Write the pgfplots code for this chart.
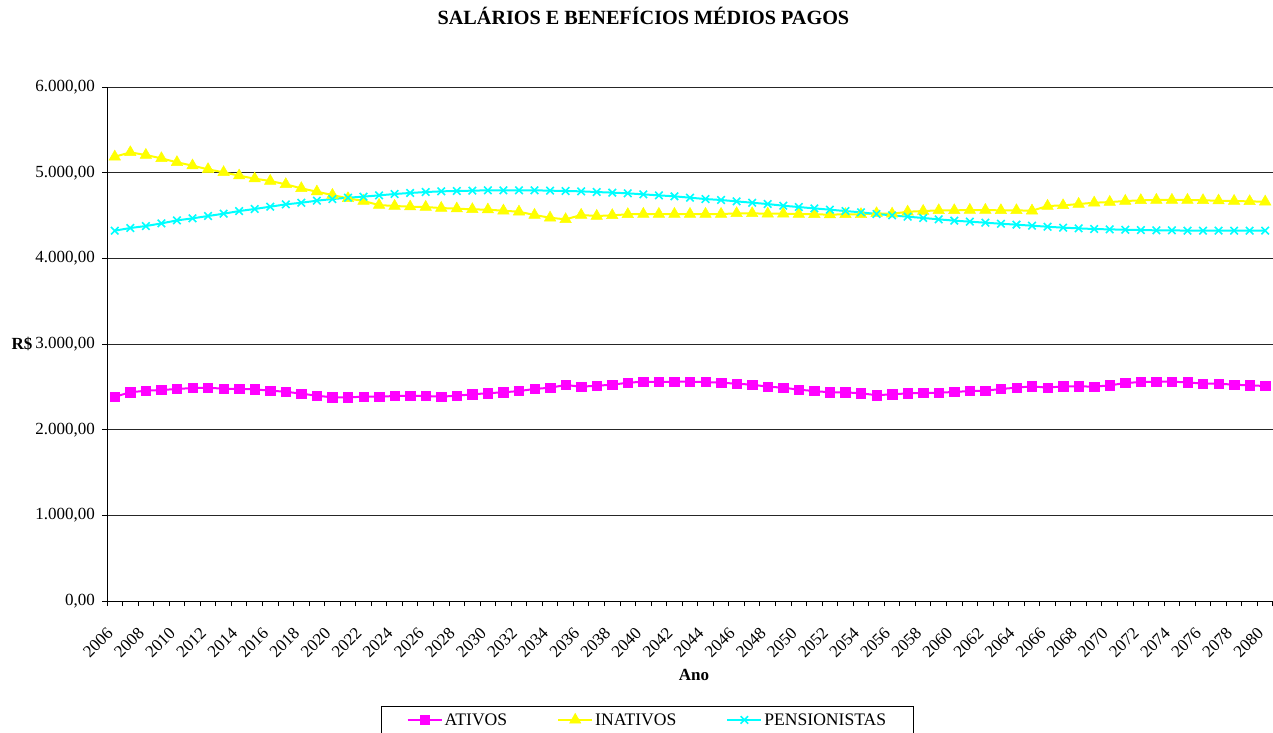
\documentclass[border=0pt]{standalone}
\usepackage{pgfplots}
\pgfplotsset{compat=1.18}
\usepackage{pgfplotstable}
\usepackage{fontspec}
\setmainfont{Liberation Serif}
\definecolor{cmag}{RGB}{255,0,255}
\definecolor{cyel}{RGB}{255,255,0}
\definecolor{ccya}{RGB}{0,255,255}
\pgfplotstableread{
year ativ inat pens
2006 2385 5186 4323
2007 2436 5237 4354
2008 2455 5206 4377
2009 2463 5167 4408
2010 2475 5121 4443
2011 2486 5082 4467
2012 2490 5039 4494
2013 2478 5004 4521
2014 2475 4965 4552
2015 2471 4930 4576
2016 2455 4903 4603
2017 2443 4864 4630
2018 2420 4817 4649
2019 2397 4778 4673
2020 2377 4739 4692
2021 2377 4700 4708
2022 2385 4669 4720
2023 2385 4622 4735
2024 2393 4611 4751
2025 2397 4603 4763
2026 2393 4599 4774
2027 2385 4587 4782
2028 2397 4580 4786
2029 2412 4572 4790
2030 2426 4568 4794
2031 2436 4556 4794
2032 2451 4544 4794
2033 2475 4506 4794
2034 2490 4474 4790
2035 2521 4455 4786
2036 2502 4506 4782
2037 2513 4494 4774
2038 2525 4502 4767
2039 2548 4514 4759
2040 2560 4517 4747
2041 2556 4517 4735
2042 2560 4517 4724
2043 2560 4517 4708
2044 2556 4517 4692
2045 2548 4517 4681
2046 2537 4525 4665
2047 2525 4525 4649
2048 2502 4521 4634
2049 2490 4521 4614
2050 2467 4517 4599
2051 2451 4514 4583
2052 2436 4510 4568
2053 2436 4514 4552
2054 2424 4514 4537
2055 2403 4525 4517
2056 2412 4520 4502
2057 2424 4544 4486
2058 2428 4552 4471
2059 2432 4560 4455
2060 2440 4560 4440
2061 2451 4564 4428
2062 2455 4564 4416
2063 2475 4560 4404
2064 2490 4560 4393
2065 2506 4556 4381
2066 2490 4611 4369
2067 2506 4618 4358
2068 2506 4634 4350
2069 2502 4649 4342
2070 2517 4657 4338
2071 2545 4669 4334
2072 2556 4677 4330
2073 2560 4681 4327
2074 2560 4681 4327
2075 2552 4681 4323
2076 2537 4677 4323
2077 2537 4673 4323
2078 2525 4669 4323
2079 2517 4665 4323
2080 2510 4661 4323
}\datatable
\begin{document}
\begin{tikzpicture}
\useasboundingbox (-107pt,-131pt) rectangle (1166pt,601pt);
\begin{axis}[
  scale only axis,
  width=1166pt, height=514pt,
  xmin=2005.5, xmax=2080.5,
  ymin=0, ymax=6000,
  axis x line*=bottom, axis y line*=left,
  axis line style={-, black, line width=0.9pt},
  ytick={0,1000,...,6000},
  yticklabels={{0,00},{1.000,00},{2.000,00},{3.000,00},{4.000,00},{5.000,00},{6.000,00}},
  xtick={2006,2008,...,2080},
  minor xtick={2005.5,2006.5,...,2080.5},
  tick align=outside,
  major tick length=5pt, minor tick length=5pt,
  major x tick style={draw=none},
  minor x tick style={black, line width=0.8pt},
  ytick style={black, line width=0.8pt},
  ymajorgrids,
  grid style={black!85, line width=0.8pt},
  /pgf/number format/assume math mode=true,
  /pgf/number format/1000 sep={},
  tick label style={font=\fontsize{17}{20}\selectfont, black},
  yticklabel style={inner xsep=7pt},
  xticklabel style={rotate=45, anchor=base east, inner sep=0pt, xshift=-1pt},
  xticklabel shift=28pt,
  title={\textbf{SALÁRIOS E BENEFÍCIOS MÉDIOS PAGOS}},
  title style={font=\fontsize{20.2}{24}\selectfont, at={(axis description cs:0.4601,1)}, anchor=center, yshift=65pt},
  xlabel={\textbf{Ano}},
  every axis x label/.style={at={(axis description cs:0.5,0)}, anchor=center, yshift=-74pt, xshift=4pt, font=\fontsize{17}{20}\selectfont},
  ylabel={\textbf{R\$}},
  every axis y label/.style={at={(axis description cs:0,0.5)}, anchor=center, xshift=-85pt, font=\fontsize{17}{20}\selectfont},
  legend columns=3,
  legend style={at={(axis description cs:0.4635,-0.204)}, anchor=north, draw=black, line width=1pt,
    font=\fontsize{17.6}{20}\selectfont, inner xsep=25pt, inner ysep=5pt,
    /tikz/every even column/.append style={column sep=48pt}},
  legend image code/.code={\draw[mark repeat=2,mark phase=2] plot coordinates {(0pt,0pt) (17pt,0pt) (34pt,0pt)};},
]
\addplot[cmag, line width=2pt, mark=square*, mark size=4.7pt, mark options={solid, fill=cmag, draw=cmag, line width=0.5pt}] table[x=year, y=ativ] {\datatable};
\addlegendentry{ATIVOS}
\addplot[cyel, line width=2pt, mark=triangle*, mark size=6.6pt, mark options={solid, fill=cyel, draw=cyel, line width=0.5pt}] table[x=year, y=inat] {\datatable};
\addlegendentry{INATIVOS}
\addplot[ccya, line width=2pt, mark=x, mark size=5.3pt, mark options={solid, draw=ccya, line width=1.6pt}] table[x=year, y=pens] {\datatable};
\addlegendentry{PENSIONISTAS}
\end{axis}
\end{tikzpicture}
\end{document}
